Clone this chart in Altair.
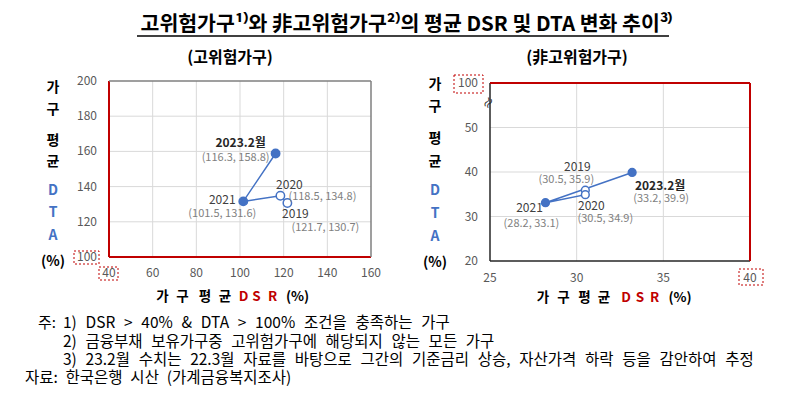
import altair as alt
import pandas as pd

# ---------------- data ----------------
years = ["2019", "2020", "2021", "2023.2월"]
seq = [1, 2, 3, 4]
is_filled = [False, False, True, True]
hr_dsr = [121.7, 118.5, 101.5, 116.3]
hr_dta = [130.7, 134.8, 131.6, 158.8]
nr_dsr = [30.5, 30.5, 28.2, 33.2]
nr_dta = [35.9, 34.9, 33.1, 39.9]

hr_xticks = [40, 60, 80, 100, 120, 140, 160]
hr_xlabels = ["40", "60", "80", "100", "120", "140", "160"]
hr_yticks = [100, 120, 140, 160, 180, 200]
hr_ylabels = ["100", "120", "140", "160", "180", "200"]
nr_xticks = [25, 30, 35, 40]
nr_xlabels = ["25", "30", "35", "40"]
nr_yticks = [20, 30, 40, 50, 60]
nr_ylabels = ["20", "30", "40", "50", "100"]

title_text = "고위험가구¹⁾와 非고위험가구²⁾의 평균 DSR 및 DTA 변화 추이³⁾"
sub_left = "(고위험가구)"
sub_right = "(非고위험가구)"
ytitle_chars = ["가", "구", "평", "균", "D", "T", "A", "(%)"]
xtitle_chars = ["가", "구", "평", "균", "D", "S", "R", "(%)"]
note_head = "주:"
notes = [
    "1) DSR > 40% & DTA > 100% 조건을 충족하는 가구",
    "2) 금융부채 보유가구중 고위험가구에 해당되지 않는 모든 가구",
    "3) 23.2월 수치는 22.3월 자료를 바탕으로 그간의 기준금리 상승, 자산가격 하락 등을 감안하여 추정",
]
source = "자료: 한국은행 시산 (가계금융복지조사)"

# ---------------- style ----------------
FONT = "Noto Sans CJK KR"
BLUE = "#4472C4"
RED = "#C00000"
GRID = "#D9D9D9"
TICK = "#595959"
W, H = 781, 380
EN = "\u2002"


def one():
    return pd.DataFrame({"k": [0]})


def txt(t, x, y, size=14, color="#000", weight="normal", align="center", angle=0):
    return alt.Chart(one()).mark_text(
        text=t, font=FONT, fontSize=size, color=color, fontWeight=weight,
        align=align, baseline="middle", angle=angle,
    ).encode(x=alt.value(x), y=alt.value(y))


def box(x0, x1, y0, y1):
    return alt.Chart(one()).mark_rect(
        filled=False, stroke=RED, strokeWidth=1, strokeDash=[2, 2]
    ).encode(x=alt.value(x0), x2=alt.value(x1), y=alt.value(y0), y2=alt.value(y1))


def panel(dsr, dta, xdom, ydom, xr, yr, xticks, xlabels, yticks, ylabels,
          ylab_x, xlab_y, frame_cols, gx, gy, offs, psize):
    sx = alt.Scale(domain=xdom, range=xr, nice=False, zero=False)
    sy = alt.Scale(domain=ydom, range=yr, nice=False, zero=False)

    def X(f):
        return alt.X(f + ":Q", scale=sx, axis=None)

    def Y(f):
        return alt.Y(f + ":Q", scale=sy, axis=None)

    layers = []
    # grid
    gv = pd.DataFrame({"x": gx, "y": [ydom[0]] * len(gx), "y2": [ydom[1]] * len(gx)})
    layers.append(alt.Chart(gv).mark_rule(color=GRID, strokeWidth=1).encode(
        x=X("x"), y=Y("y"), y2="y2:Q"))
    gh = pd.DataFrame({"y": gy, "x": [xdom[0]] * len(gy), "x2": [xdom[1]] * len(gy)})
    layers.append(alt.Chart(gh).mark_rule(color=GRID, strokeWidth=1).encode(
        y=Y("y"), x=X("x"), x2="x2:Q"))
    # frame: left, bottom, top, right
    fr = pd.DataFrame({
        "x": [xdom[0], xdom[0], xdom[0], xdom[1]],
        "x2": [xdom[0], xdom[1], xdom[1], xdom[1]],
        "y": [ydom[0], ydom[0], ydom[1], ydom[0]],
        "y2": [ydom[1], ydom[0], ydom[1], ydom[1]],
        "c": frame_cols[0],
        "w": frame_cols[1],
    })
    layers.append(alt.Chart(fr).mark_rule().encode(
        x=X("x"), x2="x2:Q", y=Y("y"), y2="y2:Q",
        color=alt.Color("c:N", scale=None),
        strokeWidth=alt.StrokeWidth("w:Q", scale=None)))

    df = pd.DataFrame({
        "year": years, "seq": seq, "x": dsr, "y": dta,
        "fillc": [BLUE if f else "white" for f in is_filled],
        "coord": [f"({a}, {b})" for a, b in zip(dsr, dta)],
    })
    layers.append(alt.Chart(df).mark_line(color=BLUE, strokeWidth=1.5).encode(
        x=X("x"), y=Y("y"), order="seq:Q"))
    layers.append(alt.Chart(df).mark_circle(size=psize, opacity=1, stroke=BLUE, strokeWidth=1.5).encode(
        x=X("x"), y=Y("y"), fill=alt.Fill("fillc:N", scale=None)))
    for yr_name in years:
        (ndx, ndy), (cdx, cdy) = offs[yr_name]
        bold = yr_name.endswith("월")
        layers.append(alt.Chart(df).transform_filter(alt.datum.year == yr_name).mark_text(
            font=FONT, fontSize=12, color="#262626" if bold else "#404040",
            fontWeight="bold" if bold else "normal", dx=ndx, dy=ndy, baseline="middle"
        ).encode(x=X("x"), y=Y("y"), text="year:N"))
        layers.append(alt.Chart(df).transform_filter(alt.datum.year == yr_name).mark_text(
            font=FONT, fontSize=11, color="#7F7F7F", dx=cdx, dy=cdy, baseline="middle"
        ).encode(x=X("x"), y=Y("y"), text="coord:N"))

    # tick labels
    tx = pd.DataFrame({"v": xticks, "t": xlabels})
    layers.append(alt.Chart(tx).mark_text(font=FONT, fontSize=12, color=TICK, baseline="middle").encode(
        x=X("v"), y=alt.value(xlab_y), text="t:N"))
    ty = pd.DataFrame({"v": yticks, "t": ylabels})
    layers.append(alt.Chart(ty).mark_text(font=FONT, fontSize=12, color=TICK, align="right",
                                          baseline="middle").encode(
        y=Y("v"), x=alt.value(ylab_x), text="t:N"))
    return alt.layer(*layers)


left = panel(
    hr_dsr, hr_dta, [40, 160], [100, 200], [101, 363], [249, 73],
    hr_xticks, hr_xlabels, hr_yticks, hr_ylabels, 89, 265,
    ([RED, RED, "#7F7F7F", "#7F7F7F"], [2, 2, 1.5, 1.5]),
    [60, 80, 100, 120, 140], [120, 140, 160, 180],
    {"2019": ((8, 11), (38, 25)), "2020": ((9, -11), (42, 1)),
     "2021": ((-21, -1), (-21, 13)), "2023.2월": ((-35, -11), (-40, 4))},
    70,
)
right = panel(
    nr_dsr, nr_dta, [25, 40], [20, 60], [482, 742], [253, 75],
    nr_xticks, nr_xlabels, nr_yticks, nr_ylabels, 470, 270,
    (["#262626", "#262626", RED, RED], [1.5, 1.5, 2, 2]),
    [30, 35], [30, 40, 50],
    {"2019": ((-8, -23), (-19, -10)), "2020": ((6, 11), (20, 24)),
     "2021": ((-16, 5), (-14, 21)), "2023.2월": ((28, 14), (29, 27))},
    60,
)

deco = []
deco.append(txt(title_text, 399, 17, size=20.5, weight="bold"))
deco.append(alt.Chart(one()).mark_rule(color="#000", strokeWidth=1.5).encode(
    x=alt.value(129), x2=alt.value(661), y=alt.value(28)))
deco.append(txt(sub_left, 222, 50, size=16, weight="bold"))
deco.append(txt(sub_right, 569, 50, size=16, weight="bold"))

# stacked y-axis titles
for x0, ys in [(45, [80, 102, 133, 154, 183, 205, 228, 254]),
               (427, [77, 99, 131, 154, 183, 206, 229, 255])]:
    for ch, yy in zip(ytitle_chars, ys):
        col = BLUE if ch in ("D", "T", "A") else "#000"
        deco.append(txt(ch, x0, yy, size=14, color=col, weight="bold"))

# x-axis titles (spaced characters)
for xs, yy in [((154.5, 174.5, 197, 217, 235.5, 248.5, 264.5, 289.5), 289),
               ((535, 555.5, 576.5, 596, 618, 632, 646.5, 672), 290)]:
    for ch, xx in zip(xtitle_chars, xs):
        col = RED if ch in ("D", "S", "R") else "#000"
        deco.append(txt(ch, xx, yy, size=13.5, color=col, weight="bold"))

# dashed boxes
deco += [box(66, 91, 243, 256), box(91, 110, 259, 272),
         box(446, 475, 67, 85), box(731, 755, 261, 277)]

# axis break mark
deco.append(txt("≈", 481, 95, size=13, color="#262626", angle=300))

# notes
deco.append(txt(note_head, 30, 315, size=15, align="left"))
for t, yy in zip(notes, [315, 333.5, 351.5]):
    deco.append(txt(t.replace(" ", EN + "\u200a"), 55, yy, size=15.5, align="left"))
deco.append(txt(source.replace(" ", EN), 17, 369.5, size=15.5, align="left"))

chart = alt.layer(left, right, *deco).resolve_scale(
    x="independent", y="independent"
).properties(
    width=W, height=H, autosize=alt.AutoSizeParams(type="none"), padding=0
).configure_view(stroke=None)

chart.save("out.html", embed_options={"renderer": "svg", "actions": False})
